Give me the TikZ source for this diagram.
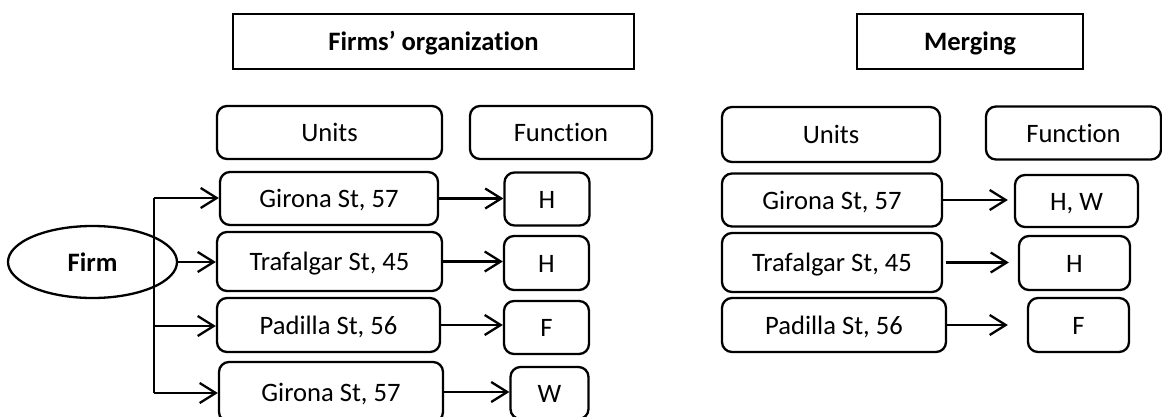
\documentclass[tikz,border=0pt]{standalone}
\usepackage{fontspec}
\setmainfont[Ligatures=NoCommon]{Carlito}
\usetikzlibrary{arrows.meta,shapes.geometric}

\begin{document}
\begin{tikzpicture}[x=0.5pt,y=-0.5pt,
  every node/.style={font=\fontsize{13.3}{16}\selectfont, line width=1.15pt, inner sep=0pt, text height=9.4pt, text depth=0pt},
  titlebox/.style={draw, minimum height=27.5pt, font=\fontsize{13.3}{16}\selectfont\bfseries},
  unitbox/.style={draw, rounded corners=5pt},
  link/.style={line width=1.15pt, -{Straight Barb[length=8pt,width=10pt,line width=1.15pt]}}]
  \useasboundingbox (0,0) rectangle (1162,417);
  \node [titlebox, minimum width=200.5pt] (orgtitle) at (433.5,41.5) {Firms’ organization};
  \node [titlebox, minimum width=113pt] (mergetitle) at (970,41.5) {Merging};
  \node [unitbox, minimum width=112.5pt, minimum height=26.5pt] (unitsL) at (329.5,132.5) {Units};
  \node [unitbox, minimum width=91pt, minimum height=26.5pt] (funcL) at (561,132.5) {Function};
  \node [unitbox, minimum width=109pt, minimum height=27.5pt] (unitsR) at (831,134.5) {Units};
  \node [unitbox, minimum width=87.5pt, minimum height=26.5pt] (funcR) at (1073.5,133) {Function};
  \node [draw, ellipse, minimum width=84.5pt, minimum height=36pt, font=\fontsize{13.3}{16}\selectfont\bfseries] (firm) at (92.5,262) {Firm};
  \node [unitbox, minimum width=109pt, minimum height=26.5pt] (uL1) at (329,198.5) {Girona St, 57};
  \node [unitbox, minimum width=112.5pt, minimum height=29.5pt] (uL2) at (329.5,261.5) {Trafalgar St, 45};
  \node [unitbox, minimum width=111.5pt, minimum height=27pt] (uL3) at (328.5,325) {Padilla St, 56};
  \node [unitbox, minimum width=112pt, minimum height=30pt] (uL4) at (331,392) {Girona St, 57};
  \node [unitbox, minimum width=42.5pt, minimum height=26.5pt] (fL1) at (547,199) {H};
  \node [unitbox, minimum width=42.5pt, minimum height=27pt] (fL2) at (546.5,263) {H};
  \node [unitbox, minimum width=42.5pt, minimum height=26.5pt] (fL3) at (546.5,327.5) {F};
  \node [unitbox, minimum width=39pt, minimum height=26pt] (fL4) at (549.5,393) {W};
  \node [unitbox, minimum width=110pt, minimum height=26.5pt] (uR1) at (832,200) {Girona St, 57};
  \node [unitbox, minimum width=110pt, minimum height=29.5pt] (uR2) at (832,262.5) {Trafalgar St, 45};
  \node [unitbox, minimum width=112pt, minimum height=27pt] (uR3) at (834,325) {Padilla St, 56};
  \node [unitbox, minimum width=61.5pt, minimum height=26pt] (fR1) at (1076.5,201) {H, W};
  \node [unitbox, minimum width=55.5pt, minimum height=27pt] (fR2) at (1074.5,263) {H};
  \node [unitbox, minimum width=50.5pt, minimum height=27pt] (fR3) at (1078.5,325) {F};
  \coordinate (top) at (154,198);
  \coordinate (bottom) at (154,393);
  \coordinate (mid) at (154,326);
  \draw [line width=1.15pt] (top) -- (bottom);
  \draw [link] (top) -- (uL1.west |- top);
  \draw [link] (firm.east) -- (uL2.west |- firm.east);
  \draw [link] (mid) -- (uL3.west |- mid);
  \draw [link] (bottom) -- (uL4.west |- bottom);
  \draw [link] (uL1.east) -- (fL1.west |- uL1.east);
  \draw [link] (uL2.east) -- (fL2.west |- uL2.east);
  \draw [link] (uL3.east) -- (fL3.west |- uL3.east);
  \draw [link] (uL4.east) -- (fL4.west |- uL4.east);
  \draw [link, shorten >=3pt] (uR1.east) -- (fR1.west |- uR1.east);
  \draw [link, shorten >=4.5pt] (uR2.east) ++(2.5,0) -- (fR2.west |- uR2.east);
  \draw [link, shorten >=9.5pt] (uR3.east) -- (fR3.west |- uR3.east);
\end{tikzpicture}
\end{document}
